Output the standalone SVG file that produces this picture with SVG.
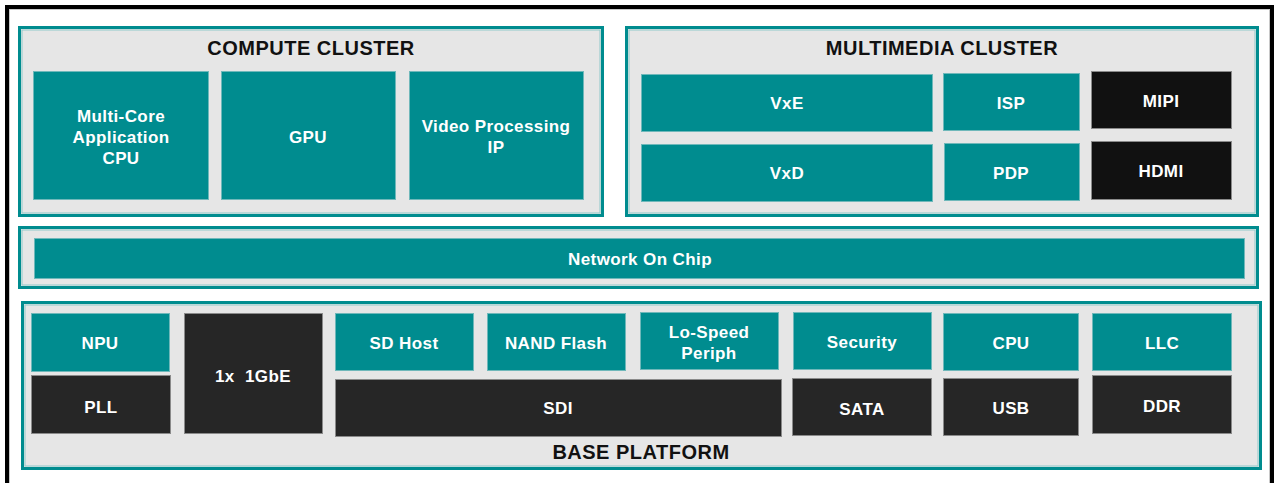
<svg xmlns="http://www.w3.org/2000/svg" width="1277" height="483" viewBox="0 0 1277 483">
<style>
.cl{fill:#e6e6e6;stroke:#008c8f;stroke-width:3}
.cli{fill:none;stroke:#8fc9ca;stroke-width:1}
.t{fill:#008c8f;stroke:#6fb8ba;stroke-width:1}
.d{fill:#262626;stroke:#8a8a8a;stroke-width:1}
.k{fill:#111111;stroke:#8a8a8a;stroke-width:1}
.lb{font-family:"Liberation Sans",Arial,sans-serif;font-weight:bold;font-size:17px;fill:#ffffff;text-anchor:middle;letter-spacing:0.4px;white-space:pre}
.ti{font-family:"Liberation Sans",Arial,sans-serif;font-weight:bold;font-size:20px;fill:#111111;text-anchor:middle;letter-spacing:0.5px}
</style>
<rect x="0" y="0" width="1277" height="483" fill="#ffffff"/>
<rect x="7" y="7" width="1265" height="490" fill="none" stroke="#000000" stroke-width="4"/>
<rect x="9.5" y="9.5" width="1260" height="485" fill="none" stroke="#c8c8c8" stroke-width="1"/>

<g id="compute-cluster">
<rect class="cl" x="19.5" y="27.5" width="583" height="188"/>
<rect class="cli" x="22" y="30" width="578" height="183"/>
<text class="ti" x="311" y="55">COMPUTE CLUSTER</text>
</g>
<g id="multicore-cpu">
<rect class="t" x="33.5" y="71.5" width="175" height="128"/>
<text class="lb" x="121" y="122">Multi-Core</text>
<text class="lb" x="121" y="143">Application</text>
<text class="lb" x="121" y="164">CPU</text>
</g>
<g id="gpu">
<rect class="t" x="221.5" y="71.5" width="174" height="128"/>
<text class="lb" x="308" y="143">GPU</text>
</g>
<g id="video-processing">
<rect class="t" x="409.5" y="71.5" width="174" height="128"/>
<text class="lb" x="496" y="132">Video Processing</text>
<text class="lb" x="496" y="153">IP</text>
</g>

<g id="multimedia-cluster">
<rect class="cl" x="626.5" y="27.5" width="631" height="188"/>
<rect class="cli" x="629" y="30" width="626" height="183"/>
<text class="ti" x="942" y="55">MULTIMEDIA CLUSTER</text>
</g>
<g id="vxe">
<rect class="t" x="641.5" y="74.5" width="291" height="57"/>
<text class="lb" x="787" y="109">VxE</text>
</g>
<g id="vxd">
<rect class="t" x="641.5" y="144.5" width="291" height="57"/>
<text class="lb" x="787" y="179">VxD</text>
</g>
<g id="isp">
<rect class="t" x="943.5" y="73.5" width="136" height="57"/>
<text class="lb" x="1011" y="109">ISP</text>
</g>
<g id="pdp">
<rect class="t" x="944.5" y="143.5" width="135" height="57"/>
<text class="lb" x="1011" y="179">PDP</text>
</g>
<g id="mipi">
<rect class="k" x="1091.5" y="71.5" width="140" height="57"/>
<text class="lb" x="1161" y="107">MIPI</text>
</g>
<g id="hdmi">
<rect class="k" x="1091.5" y="141.5" width="140" height="58"/>
<text class="lb" x="1161" y="177">HDMI</text>
</g>

<g id="network-on-chip">
<rect class="cl" x="19.5" y="227.5" width="1238" height="60"/>
<rect class="cli" x="22" y="230" width="1233" height="55"/>
<rect class="t" x="34.5" y="238.5" width="1210" height="40"/>
<text class="lb" x="640" y="265">Network On Chip</text>
</g>

<g id="base-platform">
<rect class="cl" x="22.5" y="302.5" width="1238" height="166"/>
<rect class="cli" x="25" y="305" width="1233" height="161"/>
<text class="ti" x="641" y="459">BASE PLATFORM</text>
</g>
<g id="npu">
<rect class="t" x="31.5" y="313.5" width="138" height="58"/>
<text class="lb" x="100" y="349">NPU</text>
</g>
<g id="pll">
<rect class="d" x="31.5" y="375.5" width="139" height="58"/>
<text class="lb" x="101" y="413">PLL</text>
</g>
<g id="gbe">
<rect class="d" x="184.5" y="313.5" width="138" height="120"/>
<text class="lb" x="253" y="382" xml:space="preserve">1x  1GbE</text>
</g>
<g id="sd-host">
<rect class="t" x="335.5" y="313.5" width="138" height="57"/>
<text class="lb" x="404" y="349">SD Host</text>
</g>
<g id="nand-flash">
<rect class="t" x="487.5" y="313.5" width="138" height="57"/>
<text class="lb" x="556" y="349">NAND Flash</text>
</g>
<g id="lo-speed-periph">
<rect class="t" x="640.5" y="312.5" width="138" height="57"/>
<text class="lb" x="709" y="338">Lo-Speed</text>
<text class="lb" x="709" y="359">Periph</text>
</g>
<g id="sdi">
<rect class="d" x="335.5" y="379.5" width="446" height="57"/>
<text class="lb" x="558" y="414">SDI</text>
</g>
<g id="security">
<rect class="t" x="793.5" y="312.5" width="138" height="57"/>
<text class="lb" x="862" y="348">Security</text>
</g>
<g id="sata">
<rect class="d" x="792.5" y="378.5" width="139" height="57"/>
<text class="lb" x="862" y="415">SATA</text>
</g>
<g id="cpu">
<rect class="t" x="943.5" y="313.5" width="135" height="57"/>
<text class="lb" x="1011" y="349">CPU</text>
</g>
<g id="usb">
<rect class="d" x="943.5" y="378.5" width="135" height="57"/>
<text class="lb" x="1011" y="414">USB</text>
</g>
<g id="llc">
<rect class="t" x="1092.5" y="313.5" width="139" height="57"/>
<text class="lb" x="1162" y="349">LLC</text>
</g>
<g id="ddr">
<rect class="d" x="1092.5" y="375.5" width="139" height="58"/>
<text class="lb" x="1162" y="412">DDR</text>
</g>
<g id="connectors"></g>
</svg>
